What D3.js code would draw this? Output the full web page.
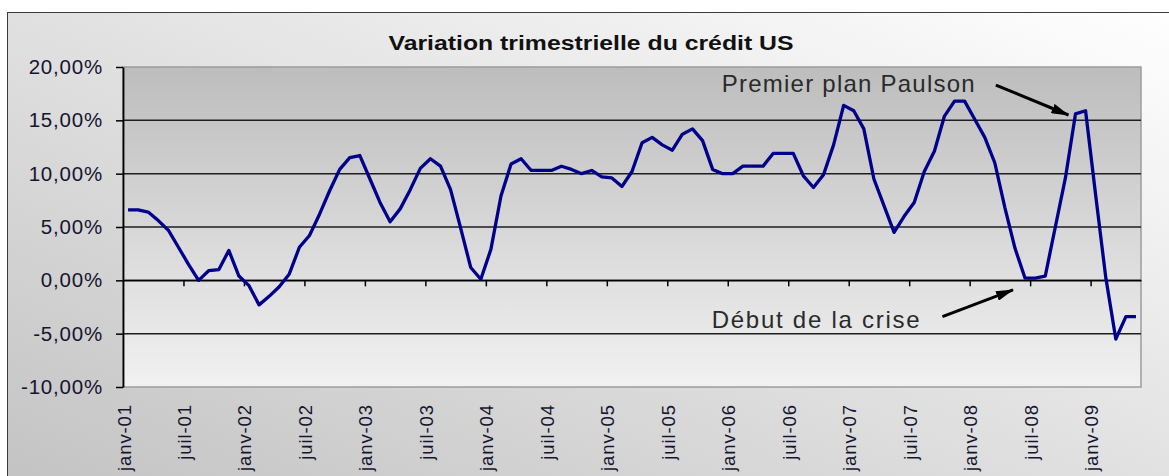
<!DOCTYPE html>
<html>
<head>
<meta charset="utf-8">
<script src="https://cdn.jsdelivr.net/npm/d3@7"></script>
<style>
  body { margin: 0; background: #fff; }
  svg text { font-family: "Liberation Sans", Arial, sans-serif; }
</style>
</head>
<body>
<svg width="1169" height="476"></svg>
<script>

// Data - monthly values, janv-01 .. mai-09 (in %)
var title = "Variation trimestrielle du crédit US";

var values = [
  6.6, 6.6, 6.4, 5.6, 4.7, 3.1, 1.5, 0.0, 0.9, 1.0,
  2.8, 0.4, -0.5, -2.3, -1.5, -0.6, 0.6, 3.1, 4.2, 6.2,
  8.4, 10.4, 11.5, 11.7, 9.5, 7.3, 5.5, 6.7, 8.5, 10.5,
  11.4, 10.7, 8.5, 4.9, 1.2, 0.1, 2.9, 7.9, 10.9, 11.4,
  10.3, 10.3, 10.3, 10.7, 10.4, 10.0, 10.3, 9.7, 9.6, 8.8,
  10.2, 12.9, 13.4, 12.7, 12.2, 13.7, 14.2, 13.1, 10.4, 10.0,
  10.0, 10.7, 10.7, 10.7, 11.9, 11.9, 11.9, 9.8, 8.7, 9.9,
  12.7, 16.4, 15.9, 14.2, 9.5, 7.0, 4.5, 6.0, 7.3, 10.2,
  12.1, 15.4, 16.8, 16.8, 15.1, 13.4, 11.0, 6.8, 3.0, 0.2,
  0.2, 0.4, 5.0, 9.6, 15.6, 15.9, 8.0, 0.3, -5.5, -3.4,
  -3.4
];

var firstMonth = new Date(2001, 0, 1);

var tickLabels = [
  "janv-01", "juil-01", "janv-02", "juil-02", "janv-03", "juil-03",
  "janv-04", "juil-04", "janv-05", "juil-05", "janv-06", "juil-06",
  "janv-07", "juil-07", "janv-08", "juil-08", "janv-09"
];
var tickEvery = 6; // months between labels

var yTicks = [20, 15, 10, 5, 0, -5, -10];

// annotations, positions given in (month index, value)
var notes = [
  {text: "Premier plan Paulson", width: 253, at: [59.4, 17.7], from: [86.6, 18.3], to: [93.8, 15.5]},
  {text: "Début de la crise", width: 208, at: [58.4, -4.5], from: [81.3, -3.4], to: [88.3, -0.9]}
];

//###############################################
// setup
//###############################################
var svg = d3.select("svg");
var plot = {left: 123, top: 67, right: 1141, bottom: 387};

var months = d3.timeMonth.range(firstMonth, d3.timeMonth.offset(firstMonth, values.length));

var x = d3.scaleBand()
  .domain(months.map((d, i) => i))
  .range([plot.left, plot.right])
  .padding(0);

// position at a (fractional) month index boundary
var xi = (i) => plot.left + i * x.step();

var y = d3.scaleLinear()
  .domain([-10, 20])
  .range([plot.bottom, plot.top]);

var fmt = (v) => v.toFixed(2).replace(".", ",") + "%";

// gradients
var defs = svg.append("defs");

var bg = defs.append("linearGradient").attr("id", "bgGrad")
  .attr("x1", 0).attr("y1", 1).attr("x2", 1).attr("y2", 0);
bg.append("stop").attr("offset", 0).attr("stop-color", "#c2c2c2");
bg.append("stop").attr("offset", 1).attr("stop-color", "#ffffff");

var pg = defs.append("linearGradient").attr("id", "plotGrad")
  .attr("x1", 0).attr("y1", 0).attr("x2", 0).attr("y2", 1);
pg.append("stop").attr("offset", 0).attr("stop-color", "#bdbdbd");
pg.append("stop").attr("offset", 1).attr("stop-color", "#f1f1f1");

defs.append("marker").attr("id", "head")
  .attr("viewBox", "0 0 18 10")
  .attr("refX", 17).attr("refY", 5)
  .attr("markerUnits", "userSpaceOnUse")
  .attr("markerWidth", 18).attr("markerHeight", 10)
  .attr("orient", "auto")
  .append("path").attr("d", "M0,0 L18,5 L0,10 Z").attr("fill", "#000");

// chart area
svg.append("rect")
  .attr("x", 7.5).attr("y", 12.5)
  .attr("width", 1185).attr("height", 490)
  .attr("fill", "url(#bgGrad)")
  .attr("stroke", "#3c3c3c").attr("stroke-width", 1);

// plot area
svg.append("rect")
  .attr("x", plot.left).attr("y", plot.top)
  .attr("width", plot.right - plot.left).attr("height", plot.bottom - plot.top)
  .attr("fill", "url(#plotGrad)")
  .attr("stroke", "#9c9c9c").attr("stroke-width", 1.5);

// grid
svg.append("g").attr("class", "grid")
  .selectAll("line")
  .data(yTicks.filter(v => v > -10 && v < 20))
  .enter().append("line")
    .attr("x1", plot.left).attr("x2", plot.right)
    .attr("y1", d => y(d)).attr("y2", d => y(d))
    .attr("stroke", "#1e1e1e").attr("stroke-width", 1.5);

// y axis
var yAxis = svg.append("g")
  .attr("transform", `translate(${plot.left},0)`)
  .call(d3.axisLeft(y).tickValues(yTicks).tickSize(7).tickSizeOuter(0).tickPadding(13).tickFormat(fmt));
yAxis.select(".domain").attr("stroke", "#000").attr("stroke-width", 1.8);
yAxis.selectAll(".tick line").attr("stroke", "#000").attr("stroke-width", 1.5);
yAxis.selectAll("text")
  .attr("font-size", 20.5).attr("fill", "#151530")
  .attr("letter-spacing", 0.8)
  .attr("font-family", "Liberation Sans, Arial, sans-serif");

// x axis (crosses at 0), ticks between categories
var xb = d3.scaleLinear().domain([0, values.length]).range([plot.left, plot.right]);
var xAxis = svg.append("g")
  .attr("transform", `translate(0,${y(0)})`)
  .call(d3.axisBottom(xb)
    .tickValues(d3.range(tickEvery, values.length, tickEvery))
    .tickSize(6).tickSizeOuter(0).tickFormat(""));
xAxis.select(".domain").attr("stroke", "#000").attr("stroke-width", 1.5);
xAxis.selectAll(".tick line").attr("stroke", "#000").attr("stroke-width", 1.5);

// x labels, rotated, under the plot area
svg.append("g").attr("class", "xlabels")
  .selectAll("text")
  .data(tickLabels)
  .enter().append("text")
    .attr("transform", (d, k) => `translate(${x(k * tickEvery) + x.bandwidth() / 2 - 4},${plot.bottom + 17}) rotate(-90)`)
    .attr("text-anchor", "end")
    .attr("dy", "0.35em")
    .attr("font-size", 18.5)
    .attr("letter-spacing", 0.9)
    .attr("fill", "#151530")
    .text(d => d);

// series
var line = d3.line()
  .x((d, i) => x(i) + x.bandwidth() / 2)
  .y(d => y(d));

svg.append("path")
  .datum(values)
  .attr("d", line)
  .attr("fill", "none")
  .attr("stroke", "#00008b")
  .attr("stroke-width", 3.3)
  .attr("stroke-linejoin", "round");

// title
svg.append("text")
  .attr("x", 591).attr("y", 50)
  .attr("text-anchor", "middle")
  .attr("font-size", 20).attr("font-weight", "bold")
  .attr("fill", "#111")
  .attr("textLength", 405).attr("lengthAdjust", "spacingAndGlyphs")
  .text(title);

// annotations
var ann = svg.append("g").attr("class", "notes");
ann.selectAll("text")
  .data(notes)
  .enter().append("text")
    .attr("x", d => xi(d.at[0])).attr("y", d => y(d.at[1]))
    .attr("font-size", 24).attr("fill", "#2a2a2a")
    .attr("textLength", d => d.width).attr("lengthAdjust", "spacing")
    .text(d => d.text);

ann.selectAll("line")
  .data(notes)
  .enter().append("line")
    .attr("x1", d => xi(d.from[0])).attr("y1", d => y(d.from[1]))
    .attr("x2", d => xi(d.to[0])).attr("y2", d => y(d.to[1]))
    .attr("stroke", "#000").attr("stroke-width", 3)
    .attr("marker-end", "url(#head)");

</script>
</body>
</html>
